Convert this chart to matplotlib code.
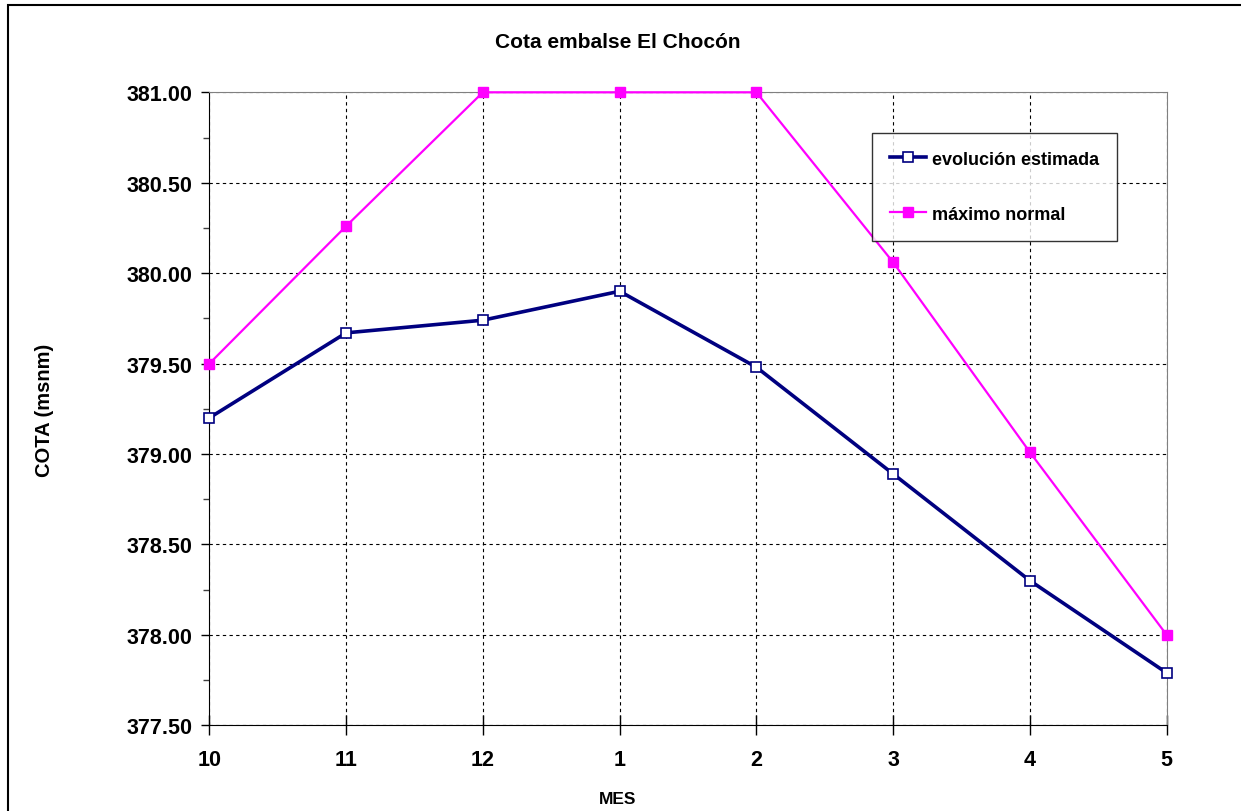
import matplotlib.pyplot as plt
from matplotlib.ticker import MultipleLocator, FormatStrFormatter
from matplotlib.patches import Rectangle

plt.rcParams['font.family'] = ['Liberation Sans', 'DejaVu Sans']

meses = ['10', '11', '12', '1', '2', '3', '4', '5']
evolucion_estimada = [379.20, 379.67, 379.74, 379.90, 379.48, 378.89, 378.30, 377.79]
maximo_normal = [379.50, 380.26, 381.00, 381.00, 381.00, 380.06, 379.01, 378.00]

fig = plt.figure(figsize=(12.41, 8.12), dpi=100)
ax = fig.add_axes([0.1687, 0.1055, 0.7714, 0.7796])

x = list(range(len(meses)))
ax.plot(x, evolucion_estimada, color='#000080', linewidth=2.6, marker='s',
        markersize=7, markerfacecolor='white', markeredgecolor='#000080',
        markeredgewidth=1.2, label='evolución estimada', zorder=4, clip_on=False)
ax.plot(x, maximo_normal, color='#FF00FF', linewidth=1.6, marker='s',
        markersize=7, markerfacecolor='#FF00FF', markeredgecolor='#FF00FF',
        label='máximo normal', zorder=3, clip_on=False)

ax.set_xlim(0, len(meses) - 1)
ax.set_ylim(377.5, 381.0)
ax.set_xticks(x)
ax.set_xticklabels(meses)
ax.yaxis.set_major_locator(MultipleLocator(0.5))
ax.yaxis.set_minor_locator(MultipleLocator(0.25))
ax.yaxis.set_major_formatter(FormatStrFormatter('%.2f'))

ax.grid(True, which='major', color='black', linestyle=(0, (3, 3)), linewidth=0.8)
ax.set_axisbelow(True)

for side in ['top', 'right']:
    ax.spines[side].set_color('#808080')
for side in ['left', 'bottom']:
    ax.spines[side].set_color('black')

ax.tick_params(axis='y', which='major', direction='out', length=6, width=1,
               labelsize=15.5, pad=6)
ax.tick_params(axis='y', which='minor', direction='out', length=4, width=1, color='#404040')
ax.tick_params(axis='x', which='major', direction='inout', length=14, width=1,
               labelsize=15.5, pad=10)
for lbl in ax.get_xticklabels() + ax.get_yticklabels():
    lbl.set_fontweight('bold')

fig.text(45 / 1241, 1 - 410 / 812, 'COTA (msnm)', fontsize=14.5, fontweight='bold',
         rotation=90, ha='center', va='center')
fig.text(618 / 1241, 1 - 800 / 812, 'MES', fontsize=12.5, fontweight='bold',
         ha='center', va='center')
fig.text(618 / 1241, 1 - 43 / 812, 'Cota embalse El Chocón', fontsize=15,
         fontweight='bold', ha='center', va='center')

leg = ax.legend(loc='upper left', bbox_to_anchor=(0.6922, 0.9364), fontsize=13,
                frameon=True, fancybox=False, shadow=False, borderpad=1.0,
                labelspacing=2.1, handlelength=2.0, handletextpad=0.3,
                borderaxespad=0)
leg.get_frame().set_edgecolor('black')
leg.get_frame().set_linewidth(1)
for t in leg.get_texts():
    t.set_fontweight('bold')

fig.patches.append(Rectangle((8 / 1241, -0.1), 1.2, 1.1 - 6 / 812,
                             transform=fig.transFigure, fill=False,
                             edgecolor='black', linewidth=1.5))

fig.savefig('out.png', dpi=100)
